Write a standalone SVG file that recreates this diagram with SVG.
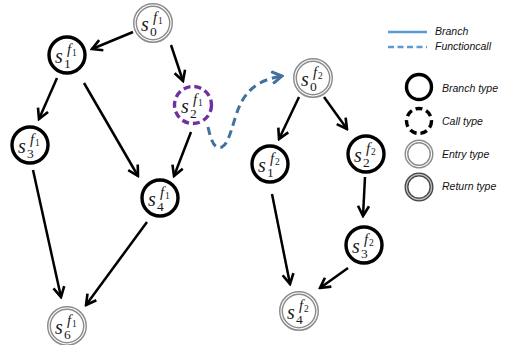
<svg xmlns="http://www.w3.org/2000/svg" width="511" height="345" viewBox="0 0 511 345">
<defs>
<style>
.b{fill:#fff;stroke:#000;stroke-width:3.4}
.c{fill:#fff;stroke:#7030A0;stroke-width:3.4;stroke-dasharray:7 4}
.e{fill:#fff;stroke:#8c8c8c;stroke-width:4}
.ei{fill:none;stroke:#fff;stroke-width:1.1}
.r{fill:#fff;stroke:#444;stroke-width:4}
.ri{fill:none;stroke:#bbb;stroke-width:1.4}
.s{font-family:"Liberation Serif",serif;font-style:italic;font-size:20px;fill:#1a1a1a}
.d{font-family:"Liberation Serif",serif;font-size:13.5px;fill:#1a1a1a}
.f{font-family:"Liberation Serif",serif;font-style:italic;font-size:15px;fill:#1a1a1a}
.fd{font-family:"Liberation Serif",serif;font-size:9.5px;fill:#1a1a1a}
.edge{stroke:#000;stroke-width:2.5;fill:none;marker-end:url(#ah)}
.lg{font-family:"Liberation Sans",sans-serif;font-style:italic;font-size:10.5px;fill:#111}
</style>
<marker id="ah" viewBox="-12 -7 14 14" refX="0" refY="0" markerWidth="14" markerHeight="14" markerUnits="userSpaceOnUse" orient="auto">
<path d="M-10,-5.5 L0,0 L-10,5.5" fill="none" stroke="#000" stroke-width="2.6"/>
</marker>
<marker id="ahb" viewBox="-12 -7 14 14" refX="0" refY="0" markerWidth="14" markerHeight="14" markerUnits="userSpaceOnUse" orient="auto">
<path d="M-10,-6 L0,0 L-10,6" fill="none" stroke="#41719C" stroke-width="3"/>
</marker>
</defs>
<rect width="511" height="345" fill="#fff"/>
<g id="connectors">
<line class="edge" x1="133" y1="32" x2="92" y2="49"/>
<line class="edge" x1="171" y1="45" x2="183" y2="81"/>
<line class="edge" x1="57" y1="78" x2="39" y2="119"/>
<line class="edge" x1="84" y1="83" x2="138" y2="176"/>
<line class="edge" x1="191" y1="132" x2="174" y2="176"/>
<line class="edge" x1="33" y1="170" x2="61" y2="297"/>
<line class="edge" x1="147" y1="222" x2="86" y2="305"/>
<line class="edge" x1="299" y1="97" x2="279" y2="139"/>
<line class="edge" x1="324" y1="97" x2="347" y2="129"/>
<line class="edge" x1="365" y1="177" x2="363" y2="216"/>
<line class="edge" x1="272" y1="194" x2="290" y2="284"/>
<line class="edge" x1="348" y1="268" x2="320" y2="288"/>
<path d="M208,127 C211,140 214,150 222,147 C230,143 233,120 240,105 C247,90 258,80 282,76" fill="none" stroke="#41719C" stroke-width="3" stroke-dasharray="8 5" marker-end="url(#ahb)"/>
</g>
<g id="s0f1"><circle class="e" cx="153" cy="23" r="18"/><circle class="ei" cx="153" cy="23" r="18"/>
<text class="s" x="141" y="31">s</text><text class="d" x="150" y="36">0</text><text class="f" x="153" y="22">f</text><text class="fd" x="158" y="24">1</text></g>
<g id="s1f1"><circle class="b" cx="67" cy="55" r="18"/>
<text class="s" x="55" y="63">s</text><text class="d" x="64" y="68">1</text><text class="f" x="67" y="54">f</text><text class="fd" x="72" y="56">1</text></g>
<g id="s2f1"><circle class="c" cx="193" cy="105" r="18.5"/>
<text class="s" x="181" y="113">s</text><text class="d" x="190" y="118">2</text><text class="f" x="193" y="104">f</text><text class="fd" x="198" y="106">1</text></g>
<g id="s3f1"><circle class="b" cx="30" cy="145" r="18"/>
<text class="s" x="18" y="153">s</text><text class="d" x="27" y="158">3</text><text class="f" x="30" y="144">f</text><text class="fd" x="35" y="146">1</text></g>
<g id="s4f1"><circle class="b" cx="160" cy="198" r="18"/>
<text class="s" x="148" y="206">s</text><text class="d" x="157" y="211">4</text><text class="f" x="160" y="197">f</text><text class="fd" x="165" y="199">1</text></g>
<g id="s6f1"><circle class="e" cx="67" cy="326" r="18"/><circle class="ei" cx="67" cy="326" r="18"/>
<text class="s" x="55" y="334">s</text><text class="d" x="64" y="339">6</text><text class="f" x="67" y="325">f</text><text class="fd" x="72" y="327">1</text></g>
<g id="s0f2"><circle class="e" cx="313" cy="78" r="18"/><circle class="ei" cx="313" cy="78" r="18"/>
<text class="s" x="301" y="86">s</text><text class="d" x="310" y="91">0</text><text class="f" x="313" y="77">f</text><text class="fd" x="318" y="79">2</text></g>
<g id="s1f2"><circle class="b" cx="270" cy="164" r="18"/>
<text class="s" x="258" y="172">s</text><text class="d" x="267" y="177">1</text><text class="f" x="270" y="163">f</text><text class="fd" x="275" y="165">2</text></g>
<g id="s2f2"><circle class="b" cx="366" cy="154" r="18"/>
<text class="s" x="354" y="162">s</text><text class="d" x="363" y="167">2</text><text class="f" x="366" y="153">f</text><text class="fd" x="371" y="155">2</text></g>
<g id="s3f2"><circle class="b" cx="364" cy="245" r="18"/>
<text class="s" x="352" y="253">s</text><text class="d" x="361" y="258">3</text><text class="f" x="364" y="244">f</text><text class="fd" x="369" y="246">2</text></g>
<g id="s4f2"><circle class="e" cx="299" cy="311" r="18"/><circle class="ei" cx="299" cy="311" r="18"/>
<text class="s" x="287" y="319">s</text><text class="d" x="296" y="324">4</text><text class="f" x="299" y="310">f</text><text class="fd" x="304" y="312">2</text></g>
<g id="legend">
<line x1="388" y1="32" x2="427" y2="32" stroke="#5B9BD5" stroke-width="2.5"/>
<text class="lg" x="435" y="35">Branch</text>
<line x1="388" y1="47" x2="427" y2="47" stroke="#5B9BD5" stroke-width="2.5" stroke-dasharray="6 3.5"/>
<text class="lg" x="435" y="50">Functioncall</text>
<circle class="b" cx="419" cy="87" r="12.5"/>
<text class="lg" x="442" y="92">Branch type</text>
<circle class="b" cx="419" cy="121" r="12.5" stroke-dasharray="7 4"/>
<text class="lg" x="442" y="125">Call type</text>
<circle class="e" cx="419" cy="154" r="12.5"/><circle class="ei" cx="419" cy="154" r="12.5"/>
<text class="lg" x="442" y="158">Entry type</text>
<circle class="r" cx="419" cy="187" r="12.5"/><circle class="ri" cx="419" cy="187" r="12.5"/>
<text class="lg" x="442" y="190">Return type</text>
</g>
</svg>
